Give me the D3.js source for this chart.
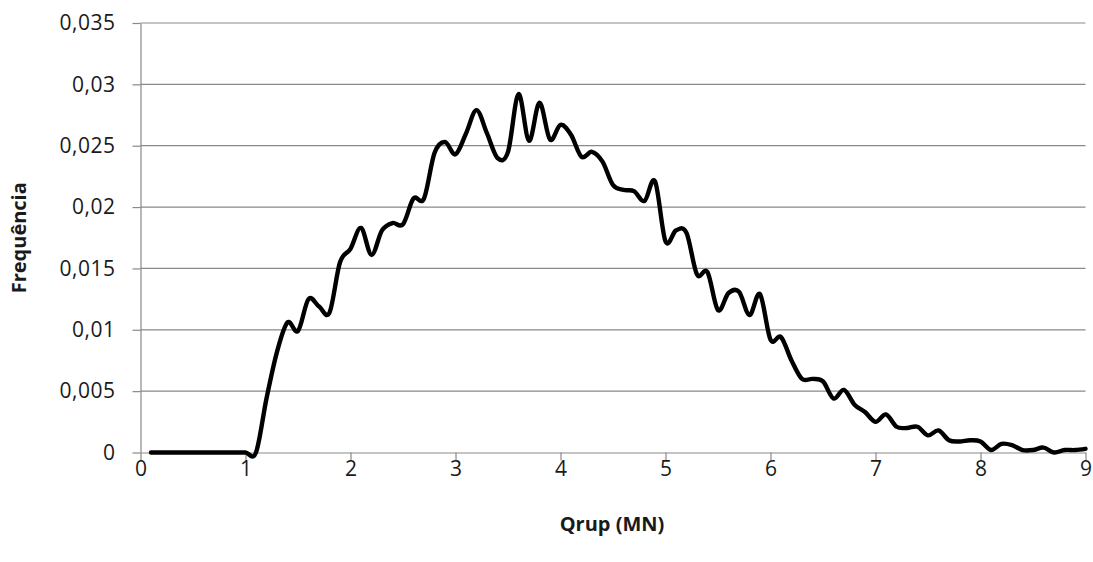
<!DOCTYPE html>
<html>
<head>
<meta charset="utf-8">
<script src="https://cdn.jsdelivr.net/npm/d3@7"></script>
<style>
  html, body { margin: 0; padding: 0; background: #fff; }
  svg { display: block; }
  .tick text { font-family: "Open Sans", "Noto Sans", sans-serif; fill: #1a1a1a; }
  .axis-title { font-family: "Open Sans", "Noto Sans", sans-serif; font-weight: bold; fill: #1a1a1a; }
</style>
</head>
<body>
<script>
// Rupture load (MN) sampled every 0.1 MN
const qrup = [
  0.1, 0.2, 0.3, 0.4, 0.5, 0.6, 0.7, 0.8, 0.9, 1.0,
  1.1, 1.2, 1.3, 1.4, 1.5, 1.6, 1.7, 1.8, 1.9, 2.0,
  2.1, 2.2, 2.3, 2.4, 2.5, 2.6, 2.7, 2.8, 2.9, 3.0,
  3.1, 3.2, 3.3, 3.4, 3.5, 3.6, 3.7, 3.8, 3.9, 4.0,
  4.1, 4.2, 4.3, 4.4, 4.5, 4.6, 4.7, 4.8, 4.9, 5.0,
  5.1, 5.2, 5.3, 5.4, 5.5, 5.6, 5.7, 5.8, 5.9, 6.0,
  6.1, 6.2, 6.3, 6.4, 6.5, 6.6, 6.7, 6.8, 6.9, 7.0,
  7.1, 7.2, 7.3, 7.4, 7.5, 7.6, 7.7, 7.8, 7.9, 8.0,
  8.1, 8.2, 8.3, 8.4, 8.5, 8.6, 8.7, 8.8, 8.9, 9.0
];

// Relative frequency for each load class
const frequencia = [
  0, 0, 0, 0, 0, 0, 0, 0, 0, 0,
  0, 0.0044, 0.0082, 0.0106, 0.0099, 0.0125, 0.0119, 0.0114, 0.0155, 0.0166,
  0.0183, 0.0161, 0.0181, 0.0187, 0.0186, 0.0207, 0.0207, 0.0244, 0.0253, 0.0243,
  0.0260, 0.0279, 0.0260, 0.0240, 0.0245, 0.0292, 0.0254, 0.0285, 0.0255, 0.0267,
  0.0259, 0.0241, 0.0245, 0.0237, 0.0218, 0.0214, 0.0213, 0.0205, 0.0221, 0.0172,
  0.0181, 0.0179, 0.0145, 0.0147, 0.0116, 0.0130, 0.0131, 0.0112, 0.0129, 0.0092,
  0.0094, 0.0075, 0.0060, 0.0060, 0.0058, 0.0044, 0.0051, 0.0039, 0.0033, 0.0025,
  0.0031, 0.0021, 0.0020, 0.0021, 0.0014, 0.0018, 0.0010, 0.0009, 0.0010, 0.0009,
  0.0002, 0.0007, 0.0006, 0.0002, 0.0002, 0.0004, 0.0000, 0.0002, 0.0002, 0.0003
];

const xTicks = [0, 1, 2, 3, 4, 5, 6, 7, 8, 9];
const yTicks = [0, 0.005, 0.01, 0.015, 0.02, 0.025, 0.03, 0.035];
const yTickLabels = ["0", "0,005", "0,01", "0,015", "0,02", "0,025", "0,03", "0,035"];

const W = 1093, H = 562;
const plot = { left: 140.5, right: 1085.5, top: 23, bottom: 452.5 };
const gridColor = "#898989";

const svg = d3.select("body").append("svg")
  .attr("width", W).attr("height", H);

const x = d3.scaleLinear().domain([0, 9]).range([plot.left, plot.right]);
const y = d3.scaleLinear().domain([0, 0.035]).range([plot.bottom, plot.top]);

// Horizontal gridlines
svg.append("g")
  .selectAll("line")
  .data(yTicks.filter(d => d > 0))
  .join("line")
  .attr("x1", plot.left).attr("x2", plot.right)
  .attr("y1", d => y(d)).attr("y2", d => y(d))
  .attr("stroke", gridColor).attr("stroke-width", 1.2);

// Y axis
const yAxis = svg.append("g")
  .attr("transform", `translate(${plot.left},0)`)
  .call(d3.axisLeft(y).tickValues(yTicks)
    .tickFormat((d, i) => yTickLabels[i])
    .tickSize(8).tickPadding(17).tickSizeOuter(0));
yAxis.select(".domain").attr("stroke", gridColor).attr("stroke-width", 1.2);
yAxis.selectAll(".tick line").attr("stroke", gridColor).attr("stroke-width", 1.2);
yAxis.selectAll(".tick text").attr("font-size", 21).attr("letter-spacing", 0.5);

// X axis
const xAxis = svg.append("g")
  .attr("transform", `translate(0,${plot.bottom})`)
  .call(d3.axisBottom(x).tickValues(xTicks)
    .tickFormat(d3.format("d"))
    .tickSize(8).tickPadding(1).tickSizeOuter(0));
xAxis.select(".domain").attr("stroke", gridColor).attr("stroke-width", 1.2);
xAxis.selectAll(".tick line").attr("stroke", gridColor).attr("stroke-width", 1.2);
xAxis.selectAll(".tick text").attr("font-size", 21);

// Smoothed frequency curve
const data = qrup.map((q, i) => ({ q, f: frequencia[i] }));
const line = d3.line()
  .x(d => x(d.q))
  .y(d => y(d.f))
  .curve(d3.curveCatmullRom.alpha(0));

svg.append("path")
  .datum(data)
  .attr("d", line)
  .attr("fill", "none")
  .attr("stroke", "#000")
  .attr("stroke-width", 4.4)
  .attr("stroke-linejoin", "round")
  .attr("stroke-linecap", "round");

// Axis titles
svg.append("text")
  .attr("class", "axis-title")
  .attr("x", 612)
  .attr("y", 531)
  .attr("text-anchor", "middle")
  .attr("font-size", 20)
  .text("Qrup (MN)");

svg.append("text")
  .attr("class", "axis-title")
  .attr("transform", `translate(26,${(plot.top + plot.bottom) / 2}) rotate(-90)`)
  .attr("text-anchor", "middle")
  .attr("font-size", 20)
  .text("Frequência");
</script>
</body>
</html>
